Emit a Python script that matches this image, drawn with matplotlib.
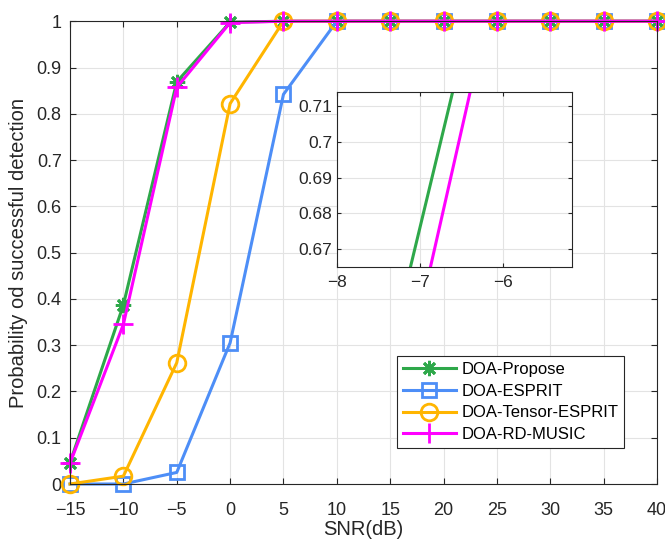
import numpy as np
import matplotlib
matplotlib.use("Agg")
import matplotlib.pyplot as plt

plt.rcParams["font.family"] = ["Liberation Sans", "DejaVu Sans"]

snr = [-15, -10, -5, 0, 5, 10, 15, 20, 25, 30, 35, 40]
p_propose = [0.046, 0.387, 0.869, 0.998, 1, 1, 1, 1, 1, 1, 1, 1]
p_esprit = [0.0, 0.0, 0.025, 0.305, 0.842, 1, 1, 1, 1, 1, 1, 1]
p_tensor = [0.0, 0.017, 0.262, 0.822, 1, 1, 1, 1, 1, 1, 1, 1]
p_music = [0.045, 0.345, 0.857, 0.997, 1, 1, 1, 1, 1, 1, 1, 1]

series = [
    ("DOA-Propose", p_propose, "#2ea84a", (8, 2, 0), 11),
    ("DOA-ESPRIT", p_esprit, "#4d8ef7", "s", 10),
    ("DOA-Tensor-ESPRIT", p_tensor, "#ffb500", "o", 12),
    ("DOA-RD-MUSIC", p_music, "#ff00ff", "+", 14),
]

fig = plt.figure(figsize=(6.65, 5.4), dpi=100)
ax = fig.add_axes([0.1053, 0.1037, 0.8827, 0.857])

for name, vals, col, mk, ms in series:
    ax.plot(snr, vals, color=col, linewidth=2.2, marker=mk, markersize=ms,
            markerfacecolor="none", markeredgecolor=col, markeredgewidth=2,
            label=name, clip_on=False)

ax.set_xlim(-15, 40)
ax.set_ylim(0, 1)
ax.set_xticks(np.arange(-15, 41, 5))
ax.set_yticks(np.arange(0, 1.01, 0.1))
ax.set_yticklabels(["0", "0.1", "0.2", "0.3", "0.4", "0.5", "0.6", "0.7", "0.8", "0.9", "1"])
ax.grid(True, color="#e3e3e3", linewidth=0.8)
ax.set_axisbelow(True)
ax.tick_params(direction="in", top=True, right=True, labelsize=13, length=4,
               colors="#262626")
ax.tick_params(axis="x", pad=13)
ax.tick_params(axis="y", pad=6)
for s in ax.spines.values():
    s.set_color("#262626")
ax.set_xlabel("SNR(dB)", fontsize=14.5, color="#262626", labelpad=1)
ax.set_ylabel("Probability od successful detection", fontsize=14.5,
              color="#262626", labelpad=6)

leg = ax.legend(loc="lower left", bbox_to_anchor=(0.557, 0.078, 0.386, 0.205),
                mode="expand", fontsize=12, handlelength=3.2, fancybox=False,
                framealpha=1, edgecolor="#262626", borderpad=0.35,
                labelspacing=0.4, handletextpad=0.3, borderaxespad=0)
leg.get_frame().set_linewidth(0.8)

# zoomed inset
axi = fig.add_axes([0.507, 0.5056, 0.353, 0.324])
for name, vals, col, mk, ms in series:
    axi.plot(snr, vals, color=col, linewidth=2.2)
axi.set_xlim(-8, -5.17)
axi.set_ylim(0.665, 0.714)
axi.set_xticks([-8, -7, -6])
axi.set_yticks([0.67, 0.68, 0.69, 0.70, 0.71])
axi.set_yticklabels(["0.67", "0.68", "0.69", "0.7", "0.71"])
axi.grid(True, color="#e3e3e3", linewidth=0.8)
axi.set_axisbelow(True)
axi.tick_params(direction="in", top=True, right=True, labelsize=12.5, length=3,
                colors="#262626")
axi.tick_params(axis="x", pad=6)
for s in axi.spines.values():
    s.set_color("#262626")

fig.savefig("out.png", dpi=100)
